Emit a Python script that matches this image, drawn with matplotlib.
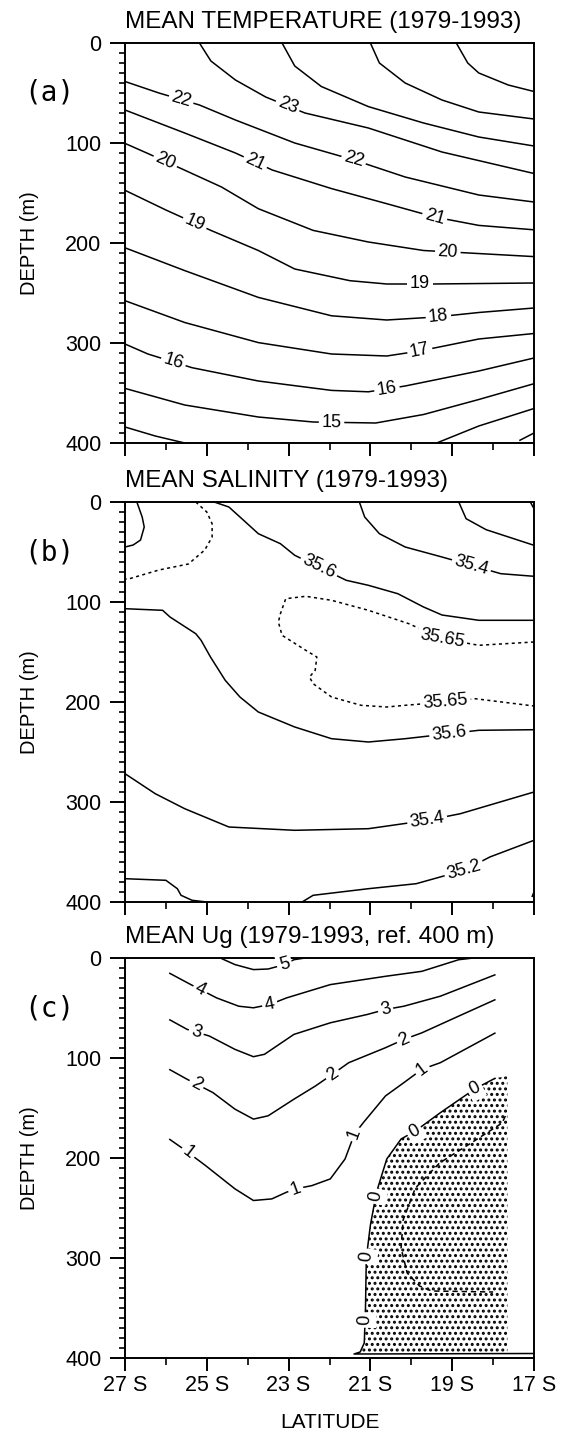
import matplotlib
matplotlib.use("Agg")
import matplotlib.pyplot as plt
import numpy as np
from matplotlib.patches import Polygon
from matplotlib.ticker import MultipleLocator, FixedLocator

plt.rcParams['font.family'] = ['Liberation Sans', 'DejaVu Sans']
plt.rcParams['hatch.linewidth'] = 1.4

# ---------------------------------------------------------------
# (a) mean temperature: isotherms traced as (latitude S, depth m)
# ---------------------------------------------------------------
temp_level = [26, 25, 24, 23, 22, 21, 20, 19, 18, 17, 16, 15, 14, 14, 13]
temp_lat = [
    [18.9, 18.62, 18.35, 17.63, 17.0],
    [21.0, 20.78, 20.15, 19.25, 18.35, 17.0],
    [23.16, 22.85, 22.2, 21.05, 19.7, 18.35, 17.0],
    [25.18, 24.9, 24.3, 23.56, 22.6, 21.05, 19.25, 17.0],
    [27.0, 26.17, 25.18, 24.3, 22.85, 21.4, 20.15, 18.35, 17.0],
    [27.0, 25.54, 24.3, 23.4, 21.95, 20.6, 19.43, 18.35, 17.0],
    [27.0, 26.44, 25.63, 24.64, 23.74, 22.4, 21.05, 19.7, 17.0],
    [27.0, 26.0, 24.9, 23.74, 22.85, 21.5, 20.6, 19.5, 17.0],
    [27.0, 25.54, 23.74, 21.95, 20.6, 19.4, 18.35, 17.0],
    [27.0, 25.54, 23.74, 21.95, 20.6, 19.8, 18.35, 17.0],
    [27.0, 26.44, 25.36, 23.74, 21.95, 21.05, 20.15, 18.35, 17.0],
    [27.0, 25.54, 23.74, 22.4, 20.87, 19.7, 18.35, 17.0],
    [27.0, 26.26, 25.54],
    [19.38, 18.35, 17.0],
    [17.36, 17.0],
]
temp_depth = [
    [0, 20, 30, 42, 48.5],
    [0, 20, 40, 57, 69, 76],
    [0, 23, 43.5, 63.6, 80, 94, 103],
    [0, 18, 37, 54, 70, 85, 109, 130.5],
    [38.5, 50, 62, 77, 100, 117, 134, 152, 159],
    [67, 90, 110, 127, 145.6, 160.7, 174, 182.4, 186.8],
    [100.4, 110.5, 125.5, 144, 165.7, 187.4, 199, 207.5, 213.6],
    [147.3, 167, 187.4, 207.5, 226, 237.7, 241, 241, 240],
    [204.8, 227.6, 254.4, 272.8, 277, 274, 269.5, 265],
    [257.7, 279.5, 299.6, 311, 313, 308, 296, 290.5],
    [301, 311, 324.7, 338, 347.4, 348.8, 343, 328, 315],
    [345.4, 362, 374, 379, 380, 371.5, 356.5, 340.7],
    [384, 393, 400],
    [400, 383, 365.5],
    [397.6, 390],
]
temp_lab_text = ["22", "23", "20", "21", "22", "19", "21", "20", "19", "18", "17",
                 "16", "16", "15"]
temp_lab_lat = [25.63, 23.03, 26.04, 23.83, 21.41, 25.32, 19.43, 19.11, 19.79, 19.34,
                19.79, 25.81, 20.6, 21.95]
temp_lab_depth = [57, 63.6, 120.5, 120.5, 117, 182.4, 174, 211, 241, 272.8, 308,
                  318, 344.8, 380]

# ---------------------------------------------------------------
# (b) mean salinity
# ---------------------------------------------------------------
sal_style = ['solid', 'dotted', 'solid', 'solid', 'solid', 'solid', 'dotted',
             'solid', 'solid', 'solid', 'solid', 'solid']
sal_lat = [
    [26.71, 26.58, 26.53, 26.62, 26.8, 27.0],
    [25.27, 25.0, 24.87, 24.87, 25.05, 25.45, 26.17, 26.89, 27.0],
    [24.82, 24.46, 24.1, 23.74, 23.47, 23.2, 22.85, 22.26, 21.59, 21.05, 20.33,
     19.7, 19.25, 18.35, 17.0],
    [21.27, 21.14, 20.78, 20.15, 19.25, 18.53, 17.81, 17.0],
    [18.84, 18.66, 18.17, 17.45, 17.0],
    [17.09, 17.0],
    [17.0, 18.35, 19.25, 20.06, 21.05, 21.95, 22.58, 23.07, 23.2, 23.25, 23.16,
     22.58, 22.31, 22.35, 22.49, 22.4, 21.95, 21.23, 20.6, 20.15, 19.16, 18.44, 17.0],
    [27.0, 26.08, 25.9, 25.27, 25.14, 24.91, 24.55, 24.19, 23.74, 22.85, 21.95,
     21.05, 20.15, 19.07, 18.35, 17.0],
    [27.0, 26.26, 25.54, 24.46, 22.85, 21.05, 19.61, 18.8, 17.0],
    [27.0, 26.0, 25.72, 25.63, 25.36, 25.0],
    [22.67, 22.4, 21.05, 19.88, 18.71, 18.08, 17.0],
    [17.05, 17.0],
]
sal_depth = [
    [0, 15, 25, 38, 43, 45],
    [0, 10, 21.7, 35, 48, 62, 68, 76.7, 77],
    [0, 5, 18.3, 31.7, 36.7, 41.7, 53.3, 65, 78.3, 83.3, 91.7, 105, 113, 118.3, 118.3],
    [0, 15, 31.7, 45, 55, 63.3, 71.7, 74.3],
    [0, 16.7, 27.7, 37.3, 43.3],
    [0, 6.7],
    [140, 143.3, 136.7, 121.7, 108.3, 98.3, 94.3, 96.7, 111.7, 120, 133.3, 148.3,
     155, 168.3, 175, 181.7, 195, 203.3, 205, 203.3, 200, 196.7, 204],
    [106.7, 108.3, 115, 131.7, 138.3, 155, 178.3, 195, 210, 225, 236.7, 240, 236.7,
     231.7, 228.3, 227.7],
    [271.7, 291.7, 306.7, 325, 328.3, 326.7, 318.3, 311.7, 290],
    [376.7, 378.3, 386.7, 393.3, 398.3, 400],
    [400, 393.3, 386.7, 381.7, 368.3, 355, 338.3],
    [395, 390],
]
sal_lab_text = ["35.6", "35.4", "35.65", "35.65", "35.6", "35.4", "35.2"]
sal_lab_lat = [22.26, 18.53, 19.25, 19.16, 19.07, 19.61, 18.71]
sal_lab_depth = [65, 63.3, 136.7, 200, 231.7, 318.3, 368.3]

# ---------------------------------------------------------------
# (c) mean geostrophic velocity Ug (ref. 400 m)
# ---------------------------------------------------------------
ug_style = ['solid', 'solid', 'solid', 'solid', 'solid', 'solid', 'dashed']
ug_lat = [
    [24.67, 24.31, 23.86, 23.5, 23.1, 22.87, 22.6],
    [25.92, 25.39, 24.76, 24.22, 23.86, 23.46, 23.05, 21.98, 20.63, 19.74, 18.84, 18.48],
    [25.92, 25.48, 24.94, 24.31, 23.86, 23.59, 22.87, 21.98, 21.08, 20.63, 20.18,
     19.29, 17.94],
    [25.92, 25.48, 24.85, 24.31, 23.86, 23.5, 22.87, 22.34, 21.93, 21.53, 20.63,
     20.18, 19.74, 18.84, 17.94],
    [25.92, 25.57, 25.03, 24.31, 23.86, 23.41, 23.05, 22.83, 22.43, 21.98, 21.62,
     21.39, 21.17, 20.63, 20.18, 19.74, 19.29, 17.94],
    [17.94, 18.45, 19.3, 19.9, 20.25, 20.6, 20.85, 21.0, 21.1, 21.12, 21.15, 21.25,
     21.4, 17.0],
    [17.7, 17.78, 18.5, 19.31, 19.9, 20.2, 20.25, 20.1, 19.8, 19.5, 18.0],
]
ug_depth = [
    [0, 6.6, 11.6, 11, 6.6, 1.7, 0],
    [15, 26.6, 39.9, 48.2, 49.8, 46.5, 39.9, 26.6, 18.3, 13.3, 1.7, 0],
    [61.5, 71.4, 78, 91.4, 98.7, 96.3, 76.4, 64.8, 56.5, 51.5, 48.2, 38.2, 16.6],
    [111.3, 121.3, 134.6, 151.2, 161.1, 157.8, 141.2, 127.9, 116.3, 104.7, 89.7,
     81.4, 74.8, 58.1, 41.5],
    [181, 191, 207.6, 230.9, 242.5, 240.9, 234.2, 230.9, 227.6, 220.9, 201, 176,
     164.5, 137.9, 124.6, 111.3, 104.7, 74.8],
    [120, 131, 155, 173, 181, 201, 234, 267, 300, 350, 385, 394, 396, 395.5],
    [158, 165, 184, 205, 230, 262, 290, 315, 328, 333, 334],
]
ug_lab_text = ["5", "4", "4", "3", "3", "2", "2", "2", "1", "1", "1", "1",
               "0", "0", "0", "0", "0"]
ug_lab_lat = [23.1, 25.16, 23.46, 25.25, 20.63, 25.25, 21.93, 20.18, 25.48, 22.83,
              21.39, 19.74, 19.93, 18.44, 20.7, 20.96, 21.12]
ug_lab_depth = [6.6, 31.6, 46.5, 73, 51.5, 126, 116.3, 81.4, 196, 230.9, 176, 111.3,
                173, 131, 239.5, 299, 362]
# negative (shaded) region: bounded by the zero contour and the east edge of data
neg_edge_lat = 17.65

lat_ticks = [27, 25, 23, 21, 19, 17]
lat_ticklabels = ["27 S", "25 S", "23 S", "21 S", "19 S", "17 S"]
depth_ticks = [0, 100, 200, 300, 400]

LINESTYLES = {'solid': '-', 'dotted': (0, (2.0, 2.2)), 'dashed': (0, (3.5, 2.5))}


def setup_axes(ax, title, tag, show_lat):
    ax.set_xlim(27, 17)
    ax.set_ylim(400, 0)
    ax.xaxis.set_major_locator(FixedLocator(lat_ticks))
    ax.xaxis.set_minor_locator(MultipleLocator(1))
    ax.yaxis.set_major_locator(FixedLocator(depth_ticks))
    ax.yaxis.set_minor_locator(MultipleLocator(10))
    ax.tick_params(which='major', direction='out', length=11, width=1.4,
                   labelsize=15.5, pad=6)
    ax.tick_params(which='minor', direction='out', length=4.5, width=1.2)
    ax.tick_params(axis='x', which='major', length=9.5)
    ax.tick_params(axis='x', which='minor', length=5)
    if show_lat:
        ax.set_xticklabels(lat_ticklabels)
        ax.tick_params(axis='x', pad=3)
        ax.set_xlabel("LATITUDE", fontsize=15, labelpad=12)
    else:
        ax.tick_params(axis='x', labelbottom=False)
    for s in ax.spines.values():
        s.set_linewidth(1.4)
    ax.set_ylabel("DEPTH (m)", fontsize=14.5, labelpad=19)
    ax.set_title(title, loc='left', fontsize=17.5, pad=11)
    ax.text(-0.185, 0.875, tag, transform=ax.transAxes, fontsize=20,
            family='DejaVu Sans Mono', ha='center', va='center')


def draw_lines(ax, lats, depths, styles=None):
    for i, (la, de) in enumerate(zip(lats, depths)):
        ls = LINESTYLES[styles[i]] if styles else '-'
        ax.plot(la, de, color='black', lw=1.1, ls=ls, solid_capstyle='butt')


def put_labels(ax, texts, lab_lat, lab_depth, lats, depths, size):
    segs = [ax.transData.transform(np.column_stack([la, de]))
            for la, de in zip(lats, depths)]
    for txt, la, de in zip(texts, lab_lat, lab_depth):
        p = ax.transData.transform((la, de))
        best = None
        for xy in segs:
            for p0, p1 in zip(xy[:-1], xy[1:]):
                d = p1 - p0
                t = np.clip(np.dot(p - p0, d) / np.dot(d, d), 0, 1)
                q = p0 + t * d
                dist = np.hypot(*(p - q))
                if best is None or dist < best[0]:
                    best = (dist, q, d)
        _, q, d = best
        ang = np.degrees(np.arctan2(d[1], d[0]))
        if ang > 90:
            ang -= 180
        elif ang < -90:
            ang += 180
        x, y = ax.transData.inverted().transform(q)
        ax.text(x, y, txt, rotation=ang, rotation_mode='anchor', ha='center',
                va='center', fontsize=size, zorder=5,
                bbox=dict(boxstyle='square,pad=0.15', fc='white', ec='none'))


fig = plt.figure(figsize=(5.75, 14.32), dpi=100)
W = 575.0
H = 1432.0
ax_a = fig.add_axes([125 / W, 1 - 443 / H, 409 / W, 400 / H])
ax_b = fig.add_axes([125 / W, 1 - 902 / H, 409 / W, 400 / H])
ax_c = fig.add_axes([125 / W, 1 - 1358 / H, 409 / W, 400 / H])

setup_axes(ax_a, "MEAN TEMPERATURE (1979-1993)", "(a)", False)
setup_axes(ax_b, "MEAN SALINITY (1979-1993)", "(b)", False)
setup_axes(ax_c, "MEAN Ug (1979-1993, ref. 400 m)", "(c)", True)

# (a)
draw_lines(ax_a, temp_lat, temp_depth)
put_labels(ax_a, temp_lab_text, temp_lab_lat, temp_lab_depth, temp_lat, temp_depth, 13)

# (b)
draw_lines(ax_b, sal_lat, sal_depth, sal_style)
put_labels(ax_b, sal_lab_text, sal_lab_lat, sal_lab_depth, sal_lat, sal_depth, 13)

# (c) stippled negative region
zero_lat = ug_lat[5][:-1] + [neg_edge_lat, neg_edge_lat]
zero_dep = ug_depth[5][:-1] + [ug_depth[5][-1], ug_depth[5][0] - 2]
ax_c.add_patch(Polygon(np.column_stack([zero_lat, zero_dep]), closed=True,
                       facecolor='none', edgecolor='black', lw=0, hatch='...',
                       zorder=1))
draw_lines(ax_c, ug_lat, ug_depth, ug_style)
put_labels(ax_c, ug_lab_text, ug_lab_lat, ug_lab_depth, ug_lat, ug_depth, 13)

fig.savefig("out.png", dpi=100)
